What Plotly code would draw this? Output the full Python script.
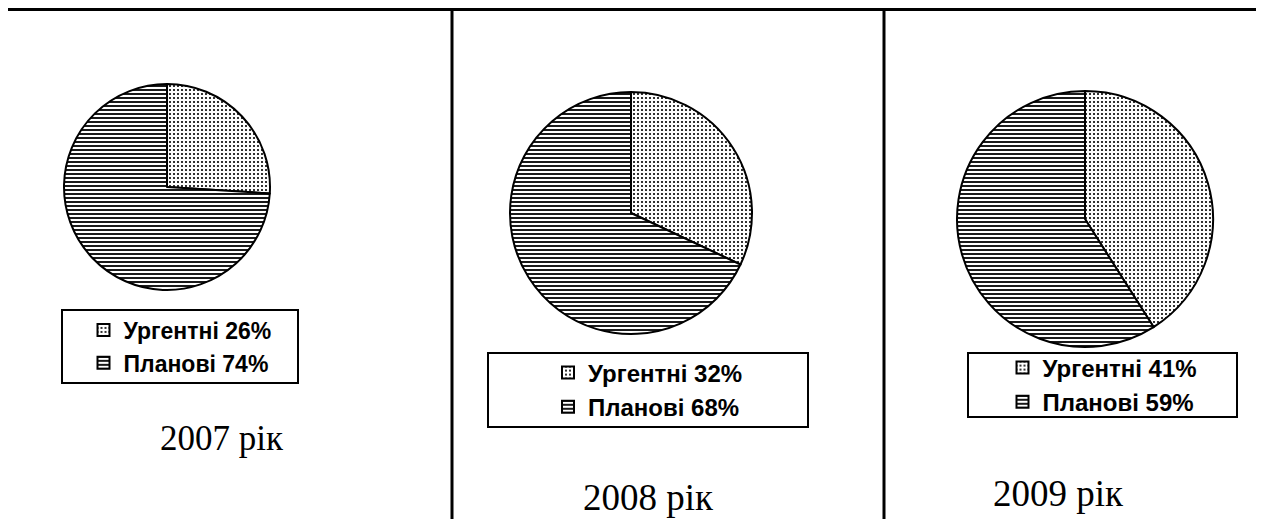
import plotly.graph_objects as go

# page has an 8px body margin, so the figure is drawn 8px in from the top-left
OFF = 8
W, H = 1264 - OFF, 519 - OFF

years = ["2007 рік", "2008 рік", "2009 рік"]
categories = ["Ургентні", "Планові"]
urgent = [26, 32, 41]
planned = [74, 68, 59]

# layout in page pixels (cx, cy, r) for each pie
pie_geom = [(167, 187, 103), (631, 213, 121), (1085, 219, 128)]
legend_box = [(62, 310, 298, 383), (488, 353, 808, 427), (968, 353, 1237, 417)]
legend_font = [23, 24, 24]
year_pos = [(222, 438), (648, 497), (1058, 493)]
year_font = [35, 37, 37]


def px(x):
    return (x - OFF) / W


def py(y):
    return 1 - (y - OFF) / H


fig = go.Figure()
legend_names = ["legend", "legend2", "legend3"]
for i in range(3):
    cx, cy, r = pie_geom[i]
    vals = [urgent[i], planned[i]]
    labels = [f"{categories[0]} {urgent[i]}%", f"{categories[1]} {planned[i]}%"]
    fig.add_trace(go.Pie(
        labels=labels,
        values=vals,
        sort=False,
        direction="clockwise",
        rotation=0,
        textinfo="none",
        hoverinfo="skip",
        domain=dict(x=[px(cx - r), px(cx + r)], y=[py(cy + r), py(cy - r)]),
        marker=dict(
            colors=["white", "white"],
            line=dict(color="black", width=2),
            pattern=dict(shape=[".", "-"], fgcolor="black", bgcolor="white",
                         size=[4, 4], solidity=[0.22, 0.45], fillmode="replace"),
        ),
        legend=legend_names[i],
    ))

shapes = []
# table lines
shapes.append(dict(type="line", xref="paper", yref="paper", x0=px(4.5), x1=1, y0=py(9.5), y1=py(9.5),
                   line=dict(color="black", width=3)))
for xv in [6, 452, 884]:
    shapes.append(dict(type="line", xref="paper", yref="paper", x0=px(xv), x1=px(xv), y0=py(8), y1=0,
                       line=dict(color="black", width=3)))
for (x0, y0, x1, y1) in legend_box:
    shapes.append(dict(type="rect", xref="paper", yref="paper", x0=px(x0), x1=px(x1), y0=py(y1), y1=py(y0),
                       line=dict(color="black", width=2), fillcolor="rgba(0,0,0,0)"))

layout_legends = {}
for i in range(3):
    x0, y0, x1, y1 = legend_box[i]
    layout_legends[legend_names[i]] = dict(
        x=px((x0 + x1) / 2), y=py((y0 + y1) / 2), xanchor="center", yanchor="middle",
        bgcolor="rgba(0,0,0,0)", borderwidth=0,
        font=dict(family="Liberation Sans, Arial", size=legend_font[i], color="black", weight="bold"),
        itemclick=False, itemdoubleclick=False,
    )

annotations = []
for i in range(3):
    x, y = year_pos[i]
    annotations.append(dict(text=years[i], x=px(x), y=py(y), xref="paper", yref="paper",
                            showarrow=False, xanchor="center", yanchor="middle",
                            font=dict(family="Liberation Serif, Times New Roman", size=year_font[i],
                                      color="black")))

fig.update_layout(
    width=W, height=H, margin=dict(l=0, r=0, t=0, b=0),
    paper_bgcolor="white", plot_bgcolor="white",
    shapes=shapes, annotations=annotations,
    **layout_legends,
)

fig.write_html("out.html")
